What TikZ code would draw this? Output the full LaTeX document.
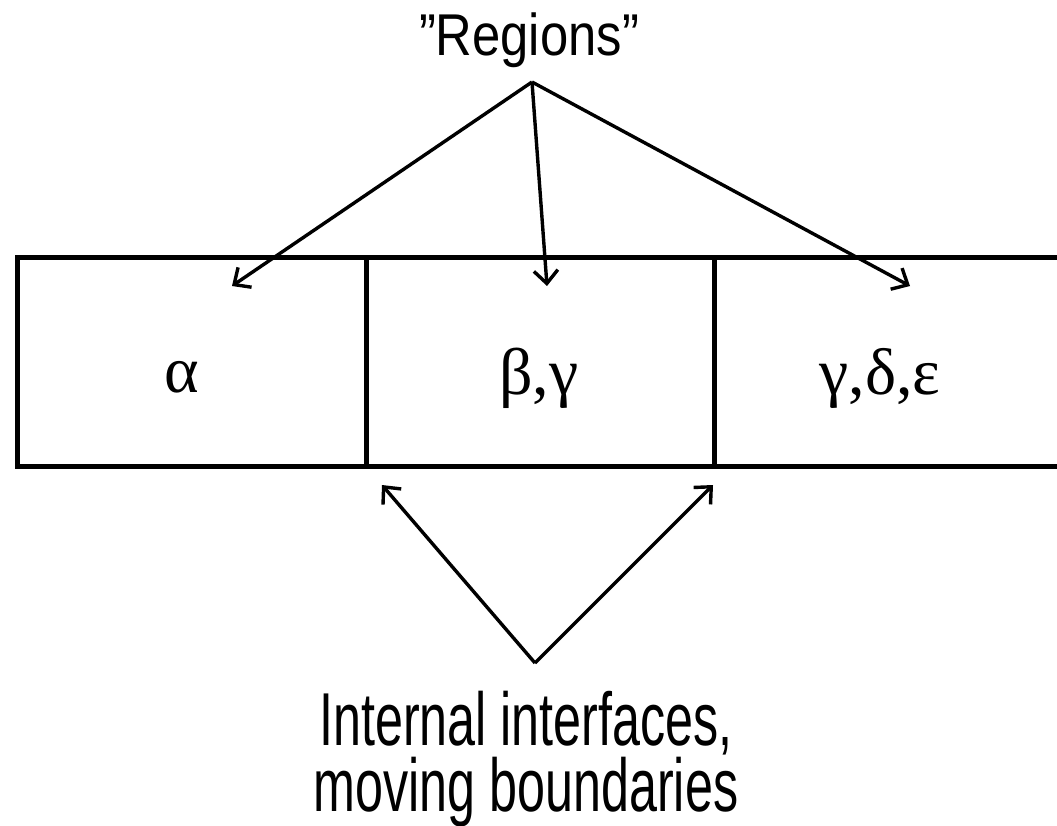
\documentclass[tikz,border=0pt]{standalone}
\usepackage{fontspec}
\setmainfont{Liberation Sans}
\newfontfamily\greekfont{Liberation Serif}
\usetikzlibrary{arrows.meta}
\begin{document}
\begin{tikzpicture}[x=1pt,y=-1pt,
  boxline/.style={line width=5pt,line cap=rect},
  pointer/.style={line width=3.4pt,-{Straight Barb[length=13pt,width=24pt,line width=3.4pt]}},
  label/.style={inner sep=0pt,font=\fontsize{75}{66}\selectfont,xscale=0.67,align=center},
  toplabel/.style={inner sep=0pt,font=\fontsize{59}{68}\selectfont,xscale=0.86},
  greek/.style={inner sep=0pt,font=\greekfont\fontsize{66}{70}\selectfont}]
\useasboundingbox (0,0) rectangle (1057,825);
% box
\coordinate (tl) at (17,257);
\coordinate (bl) at (17,466);
\coordinate (tr) at (1060,257);
\coordinate (br) at (1060,466);
\coordinate (d1t) at (366,257);
\coordinate (d1b) at (366,466);
\coordinate (d2t) at (714,257);
\coordinate (d2b) at (714,466);
\draw[boxline] (tr) -- (tl) -- (bl) -- (br);
\draw[boxline] (d1t) -- (d1b);
\draw[boxline] (d2t) -- (d2b);
% texts
\node[toplabel,anchor=base] (regions) at (529,55) {"Regions"};
\node[label,anchor=base] (internal) at (526,811) {Internal interfaces,\\moving boundaries};
\node[greek,anchor=base] (alpha) at (182,392) {α};
\node[greek,anchor=base] (betagamma) at (539,394) {β,γ};
\node[greek,anchor=base] (gde) at (880,394) {γ,δ,ε};
% arrows
\coordinate (top) at (532,82);
\coordinate (bot) at (535,663);
\coordinate (ta) at (232,286);
\coordinate (tb) at (547,286);
\coordinate (tc) at (910,286);
\coordinate (ia) at (382,485);
\coordinate (ib) at (713,485);
\draw[pointer] (top) -- (ta);
\draw[pointer] (top) -- (tb);
\draw[pointer] (top) -- (tc);
\draw[pointer] (bot) -- (ia);
\draw[pointer] (bot) -- (ib);
\end{tikzpicture}
\end{document}
